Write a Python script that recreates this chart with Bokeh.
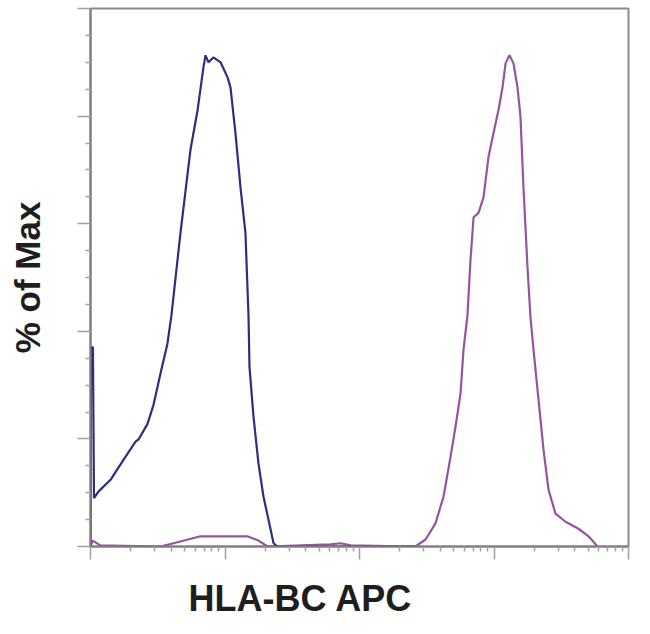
import numpy as np
from bokeh.plotting import figure
from bokeh.models import Range1d, FixedTicker, Title
from bokeh.embed import file_html
from bokeh.resources import INLINE

# x in decades of the fluorescence axis (0 = left edge), y in % of max
blue_x = [0.0, 0.004, 0.018, 0.026, 0.059, 0.149, 0.245, 0.335, 0.357, 0.424,
          0.468, 0.520, 0.572, 0.602, 0.669, 0.743, 0.796, 0.840, 0.855, 0.877,
          0.914, 0.967, 1.019, 1.041, 1.078, 1.115, 1.152, 1.175, 1.182, 1.212,
          1.249, 1.286, 1.323, 1.361, 1.390, 2.420]
blue_y = [0.0, 37.0, 37.0, 9.0, 10.2, 12.4, 16.1, 19.5, 19.9, 22.8,
          26.3, 32.1, 37.7, 43.0, 58.3, 73.7, 81.1, 89.1, 91.3, 90.0,
          90.9, 90.0, 87.2, 85.3, 76.8, 66.8, 58.3, 42.7, 33.4, 24.1,
          15.4, 9.3, 5.0, 0.6, 0.0, 0.0]

purple_x = [0.0, 0.015, 0.074, 0.520, 0.632, 0.818, 1.167, 1.249, 1.316, 1.784,
            1.859, 1.933, 2.379, 2.416, 2.491, 2.565, 2.625, 2.677, 2.714, 2.751,
            2.773, 2.803, 2.825, 2.848, 2.885, 2.922, 2.959, 2.996, 3.033, 3.063,
            3.086, 3.115, 3.145, 3.175, 3.197, 3.219, 3.249, 3.271, 3.294, 3.331,
            3.368, 3.405, 3.457, 3.532, 3.628, 3.703, 3.770]
purple_y = [0.0, 1.1, 0.2, 0.0, 0.7, 1.9, 1.9, 1.1, 0.0, 0.4,
            0.6, 0.2, 0.0, 0.0, 1.3, 4.3, 9.3, 16.7, 22.3, 28.4,
            36.5, 43.0, 53.2, 61.2, 62.0, 64.9, 72.4, 76.8, 81.1, 85.3,
            89.8, 91.3, 89.8, 85.3, 79.8, 66.8, 51.9, 42.7, 36.5, 27.3,
            18.0, 10.6, 6.1, 4.6, 3.3, 1.9, 0.0]

y_major = [0, 20, 40, 60, 80, 100]
y_minor = [5, 10, 15, 25, 30, 35, 45, 50, 55, 65, 70, 75, 85, 90, 95]
x_major = [0, 1, 2, 3, 4]
x_minor = [d + np.log10(k) for d in range(4) for k in range(2, 10)]

p = figure(width=640, height=634, output_backend="svg", toolbar_location=None,
           x_range=Range1d(0, 4), y_range=Range1d(0, 100))
p.min_border_left = 90
p.min_border_right = 12
p.min_border_top = 8
p.min_border_bottom = 87
p.grid.visible = False
p.outline_line_color = "#8c8c8c"
p.outline_line_width = 2
p.background_fill_color = "white"
p.border_fill_color = "white"

for ax in (p.xaxis[0], p.yaxis[0]):
    ax.axis_line_color = "#7d7d7d"
    ax.axis_line_width = 2
    ax.major_tick_line_color = "#a0a0a0"
    ax.minor_tick_line_color = "#a0a0a0"
    ax.major_tick_line_width = 1.5
    ax.minor_tick_line_width = 1.5
    ax.major_tick_in = 0
    ax.major_tick_out = 13
    ax.minor_tick_in = 0
    ax.minor_tick_out = 5
    ax.major_label_text_font_size = "0px"
    ax.major_label_text_color = None

p.xaxis[0].major_label_standoff = 0
p.yaxis[0].ticker = FixedTicker(ticks=y_major, minor_ticks=y_minor)
p.xaxis[0].ticker = FixedTicker(ticks=x_major, minor_ticks=x_minor)

p.yaxis[0].axis_label = "% of Max"
p.yaxis[0].axis_label_text_font = "Liberation Sans"
p.yaxis[0].axis_label_text_font_style = "bold"
p.yaxis[0].axis_label_text_font_size = "35px"
p.yaxis[0].axis_label_text_color = "#1e1e1e"
p.yaxis[0].axis_label_standoff = 31

p.add_layout(Title(text="HLA-BC APC", align="left", offset=98,
                   text_font="Liberation Sans", text_font_style="bold",
                   text_font_size="36px", text_color="#1e1e1e",
                   standoff=32), "below")

p.line(purple_x, purple_y, line_color="#94549f", line_width=2.2)
p.line(blue_x, blue_y, line_color="#2c2e7e", line_width=2.2)

open("out.html", "w").write(file_html(p, INLINE))
